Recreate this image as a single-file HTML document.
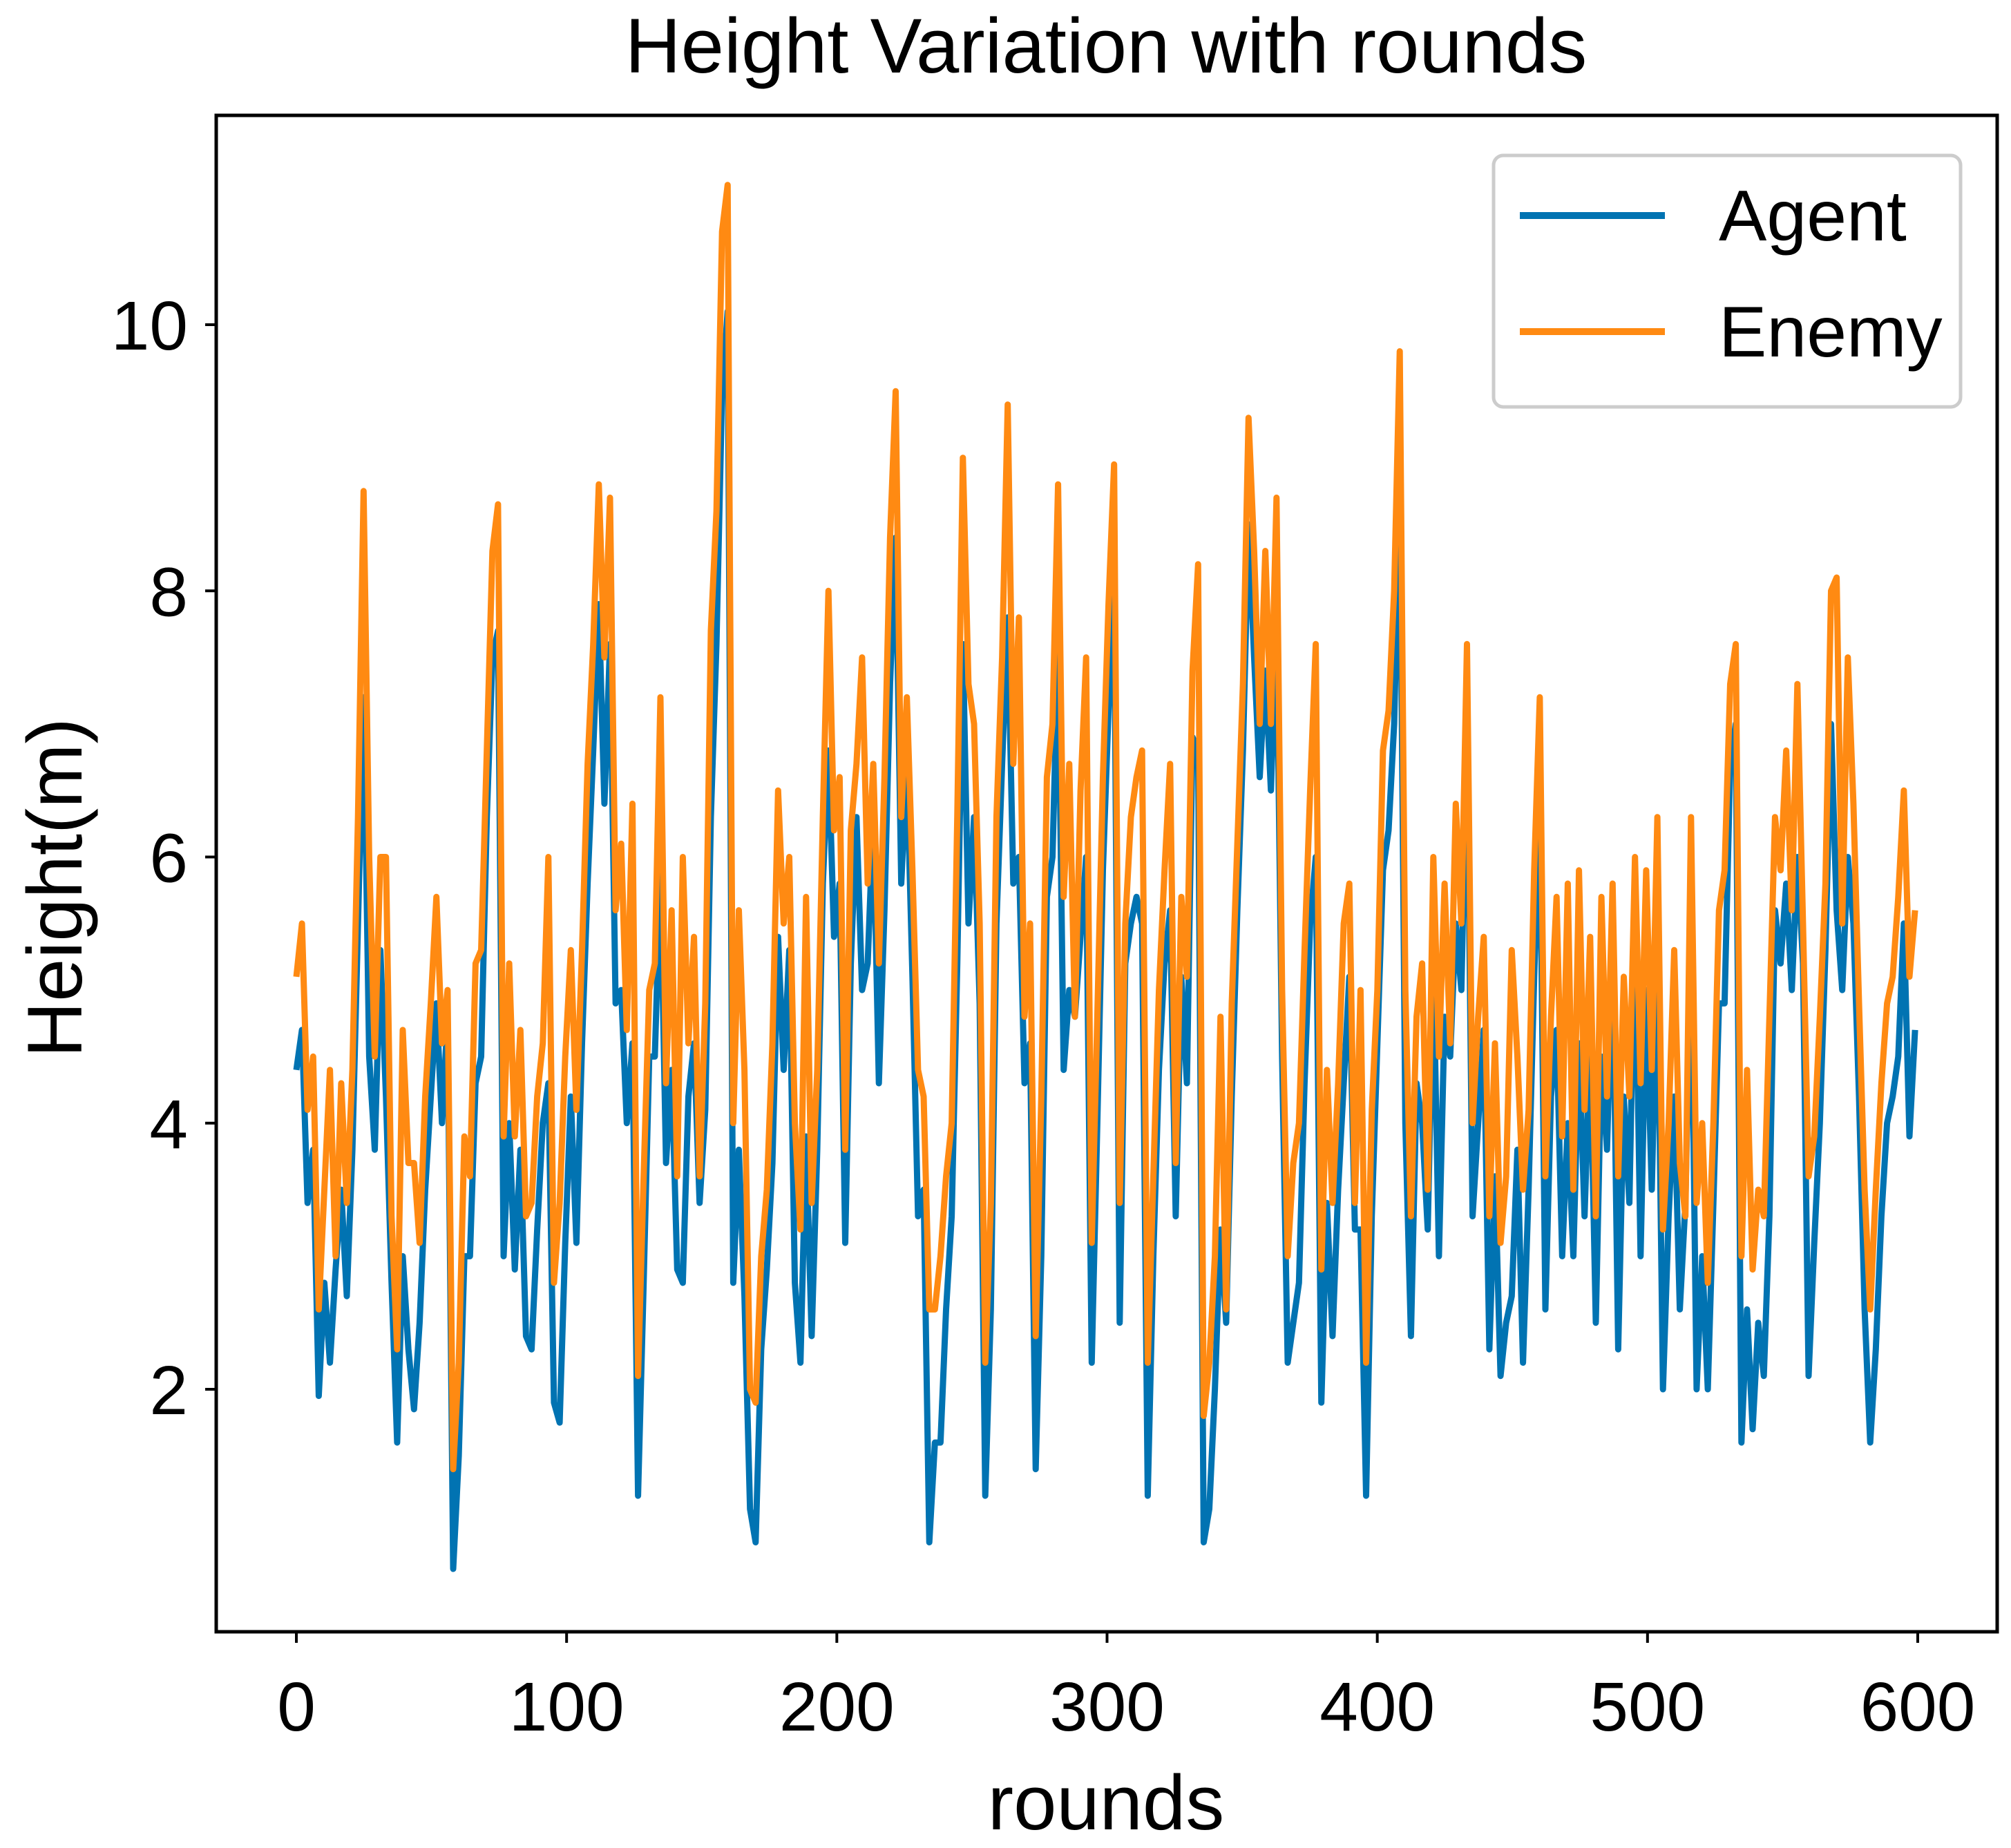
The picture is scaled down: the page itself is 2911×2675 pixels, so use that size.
<!DOCTYPE html>
<html><head><meta charset="utf-8"><style>
html,body{margin:0;padding:0;background:#fff;}
svg{display:block;font-family:"Liberation Sans","DejaVu Sans",sans-serif;}
</style></head><body>
<svg id="chart" width="2911" height="2675" viewBox="0 0 2911 2675">
<rect x="0" y="0" width="2911" height="2675" fill="#fff"/>
<text x="1601" y="105" font-size="112" text-anchor="middle">Height Variation with rounds</text>
<g id="plot"></g>
<rect x="313" y="167" width="2578" height="2195" fill="none" stroke="#000" stroke-width="5"/>
<g id="xticks"></g>
<g id="yticks"></g>
<text x="1601" y="2648" font-size="112" text-anchor="middle">rounds</text>
<text x="0" y="0" font-size="112" text-anchor="middle" transform="translate(118,1285) rotate(-90)">Height(m)</text>
<g>
<rect x="2162" y="225" width="676" height="364" rx="14" fill="#fff" fill-opacity="0.85" stroke="#ccc" stroke-width="5"/>
<line x1="2200" y1="312" x2="2410" y2="312" stroke="#0173b2" stroke-width="10"/>
<text x="2488" y="348" font-size="104">Agent</text>
<line x1="2200" y1="480" x2="2410" y2="480" stroke="#ff8a12" stroke-width="10"/>
<text x="2488" y="516" font-size="104">Enemy</text>
</g>
</svg>
<script>
const xTicks = [0,100,200,300,400,500,600];
const yTicks = [2,4,6,8,10];
const enemy = [5.1,5.5,4.1,4.5,2.6,3.5,4.4,3.0,4.3,3.4,4.4,6.3,8.75,6.0,4.5,6.0,6.0,3.3,2.3,4.7,3.7,3.7,3.1,4.2,4.9,5.7,4.6,5.0,1.4,2.2,3.9,3.6,5.2,5.3,6.8,8.3,8.65,3.9,5.2,3.9,4.7,3.3,3.4,4.2,4.6,6.0,2.8,3.4,4.5,5.3,4.1,5.3,6.7,7.6,8.8,7.5,8.7,5.6,6.1,4.7,6.4,2.1,3.6,5.0,5.2,7.2,4.3,5.6,3.6,6.0,4.6,5.4,3.6,4.9,7.7,8.6,10.7,11.05,4.0,5.6,4.4,2.0,1.9,3.0,3.5,4.6,6.5,5.5,6.0,4.0,3.2,5.7,3.4,4.4,6.3,8.0,6.2,6.6,3.8,6.2,6.7,7.5,5.8,6.7,5.2,6.6,8.4,9.5,6.3,7.2,5.9,4.4,4.2,2.6,2.6,3.0,3.6,4.0,6.3,9.0,7.3,7.0,5.5,2.2,3.4,6.3,7.5,9.4,6.7,7.8,4.8,5.5,2.4,4.2,6.6,7.0,8.8,5.7,6.7,4.8,6.5,7.5,3.1,4.8,6.6,7.9,8.95,3.4,5.5,6.3,6.6,6.8,2.2,3.6,5.0,5.9,6.7,3.7,5.7,5.1,7.4,8.2,1.8,2.2,3.0,4.8,2.6,4.9,6.1,7.3,9.3,8.3,7.0,8.3,7.0,8.7,5.0,3.0,3.7,4.0,5.3,6.5,7.6,2.9,4.4,3.4,4.3,5.5,5.8,3.4,5.0,2.2,4.1,5.0,6.8,7.1,8.0,9.8,5.0,3.3,4.8,5.2,3.5,6.0,4.5,5.8,4.6,6.4,5.5,7.6,4.0,4.8,5.4,3.3,4.6,3.1,3.6,5.3,4.5,3.5,4.1,5.9,7.2,3.6,4.8,5.7,3.9,5.8,3.5,5.9,4.1,5.4,3.3,5.7,4.2,5.8,3.6,5.1,4.2,6.0,4.3,5.9,4.4,6.3,3.2,4.0,5.3,3.7,3.3,6.3,3.4,4.0,2.8,4.0,5.6,5.9,7.3,7.6,3.0,4.4,2.9,3.5,3.3,4.8,6.3,5.9,6.8,5.6,7.3,5.5,3.6,3.9,4.8,5.8,8.0,8.1,5.5,7.5,6.4,4.9,3.5,2.6,3.5,4.3,4.9,5.1,5.7,6.5,5.1,5.6];
const agent = [4.4,4.7,3.4,3.8,1.95,2.8,2.2,2.9,3.5,2.7,3.8,5.5,7.2,4.5,3.8,5.3,4.2,2.8,1.6,3.0,2.3,1.85,2.5,3.5,4.2,4.9,4.0,4.8,0.65,1.5,3.0,3.0,4.3,4.5,6.3,7.5,7.7,3.0,4.0,2.9,3.8,2.4,2.3,3.2,4.0,4.3,1.9,1.75,3.1,4.2,3.1,4.6,5.8,6.8,7.9,6.4,7.6,4.9,5.0,4.0,4.6,1.2,2.8,4.5,4.5,5.9,3.7,4.4,2.9,2.8,4.2,4.6,3.4,4.1,6.3,7.6,9.5,10.1,2.8,3.8,2.7,1.1,0.85,2.3,2.9,3.7,5.4,4.4,5.3,2.8,2.2,3.9,2.4,3.8,5.8,6.8,5.4,5.8,3.1,5.2,6.3,5.0,5.2,6.3,4.3,5.6,7.3,8.4,5.8,6.7,5.1,3.3,3.5,0.85,1.6,1.6,2.6,3.3,5.2,7.6,5.5,6.3,4.9,1.2,2.6,5.5,6.7,7.8,5.8,6.0,4.3,4.6,1.4,3.0,5.7,6.0,7.6,4.4,5.0,4.8,5.4,6.0,2.2,4.0,5.9,7.1,8.0,2.5,5.2,5.5,5.7,5.5,1.2,3.0,4.4,5.2,5.6,3.3,5.1,4.3,6.9,6.8,0.85,1.1,2.0,3.2,2.5,4.2,5.6,6.8,8.5,7.5,6.6,7.4,6.5,7.8,4.5,2.2,2.5,2.8,4.3,5.5,6.0,1.9,3.4,2.4,3.5,4.3,5.1,3.2,3.2,1.2,3.3,4.6,5.9,6.2,7.0,8.8,4.0,2.4,4.3,4.0,3.2,5.2,3.0,4.8,4.5,5.5,5.0,7.0,3.3,4.0,4.7,2.3,3.6,2.1,2.5,2.7,3.8,2.2,3.5,5.1,6.4,2.6,4.2,4.7,3.0,4.0,3.0,4.6,3.3,4.6,2.5,4.5,3.8,5.3,2.3,4.2,3.4,5.6,3.0,5.0,3.5,5.3,2.0,3.3,4.2,2.6,3.4,5.4,2.0,3.0,2.0,3.4,4.9,4.9,6.7,7.0,1.6,2.6,1.7,2.5,2.1,3.3,5.6,5.2,5.8,5.0,6.0,5.2,2.1,3.1,4.0,5.3,7.0,5.6,5.0,6.0,5.5,4.2,2.6,1.6,2.3,3.3,4.0,4.2,4.5,5.5,3.9,4.7];
const maxRound = 599;

const X0 = 429, X600 = 2776, Y10 = 470, Y2 = 2011;
const xs = v => X0 + (X600 - X0) * v / 600;
const ys = v => Y2 + (Y10 - Y2) * (v - 2) / 8;
const NS = 'http://www.w3.org/2000/svg';

function series(vals, color, name){
  const n = vals.length;
  const pts = vals.map((v,i)=> xs(i*maxRound/(n-1)).toFixed(1)+','+ys(v).toFixed(1)).join(' ');
  const pl = document.createElementNS(NS,'polyline');
  pl.setAttribute('points', pts);
  pl.setAttribute('fill','none');
  pl.setAttribute('stroke',color);
  pl.setAttribute('stroke-width','9');
  pl.setAttribute('stroke-linejoin','round');
  
  
  document.getElementById('plot').appendChild(pl);
}
series(agent,'#0173b2','agent-line');
series(enemy,'#ff8a12','enemy-line');

const xg = document.getElementById('xticks');
xTicks.forEach(t=>{
  const l = document.createElementNS(NS,'line');
  l.setAttribute('x1',xs(t)); l.setAttribute('x2',xs(t));
  l.setAttribute('y1',2362); l.setAttribute('y2',2378);
  l.setAttribute('stroke','#000'); l.setAttribute('stroke-width','4');
  
  
  xg.appendChild(l);
  const tx = document.createElementNS(NS,'text');
  tx.setAttribute('x',xs(t)); tx.setAttribute('y',2505);
  tx.setAttribute('font-size','100'); tx.setAttribute('text-anchor','middle');
  tx.textContent = t;
  
  
  xg.appendChild(tx);
});
const yg = document.getElementById('yticks');
yTicks.forEach(t=>{
  const l = document.createElementNS(NS,'line');
  l.setAttribute('x1',297); l.setAttribute('x2',313);
  l.setAttribute('y1',ys(t)); l.setAttribute('y2',ys(t));
  l.setAttribute('stroke','#000'); l.setAttribute('stroke-width','4');
  
  
  yg.appendChild(l);
  const tx = document.createElementNS(NS,'text');
  tx.setAttribute('x',272); tx.setAttribute('y',ys(t)+36);
  tx.setAttribute('font-size','100'); tx.setAttribute('text-anchor','end');
  tx.textContent = t;
  
  
  yg.appendChild(tx);
});
</script>
</body></html>
